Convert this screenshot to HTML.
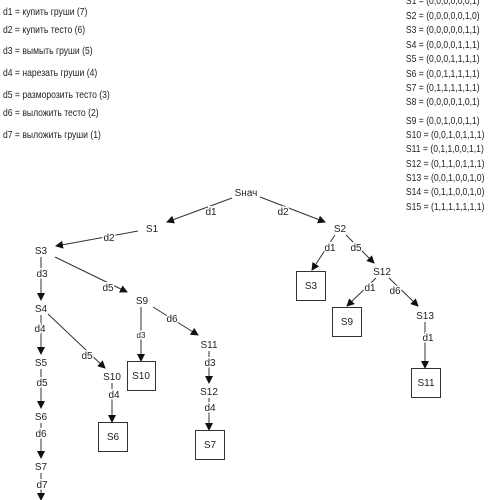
<!DOCTYPE html>
<html><head><meta charset="utf-8"><style>
html,body{margin:0;padding:0;background:#fff;width:500px;height:500px;overflow:hidden}
svg text{font-family:"Liberation Sans",sans-serif;font-size:10px;fill:#222}
.l{paint-order:stroke;stroke:#fff;stroke-width:3px}
</style></head><body>
<svg width="500" height="500" viewBox="0 0 500 500" xmlns="http://www.w3.org/2000/svg">
<defs><marker id="a" markerWidth="8" markerHeight="8" refX="7" refY="4" orient="auto" markerUnits="userSpaceOnUse"><path d="M0,0 L8,4 L0,8 z" fill="#111"/></marker></defs>
<g transform="scale(0.86,1)">
<text x="3.5" y="15">d1 = купить груши (7)</text>
<text x="3.5" y="33">d2 = купить тесто (6)</text>
<text x="3.5" y="54">d3 = вымыть груши (5)</text>
<text x="3.5" y="76">d4 = нарезать груши (4)</text>
<text x="3.5" y="98">d5 = разморозить тесто (3)</text>
<text x="3.5" y="116">d6 = выложить тесто (2)</text>
<text x="3.5" y="138">d7 = выложить груши (1)</text>
</g>
<g transform="scale(0.86,1)">
<text x="472" y="4">S1 = (0,0,0,0,0,0,1)</text>
<text x="472" y="19">S2 = (0,0,0,0,0,1,0)</text>
<text x="472" y="33">S3 = (0,0,0,0,0,1,1)</text>
<text x="472" y="48">S4 = (0,0,0,0,1,1,1)</text>
<text x="472" y="62">S5 = (0,0,0,1,1,1,1)</text>
<text x="472" y="77">S6 = (0,0,1,1,1,1,1)</text>
<text x="472" y="91">S7 = (0,1,1,1,1,1,1)</text>
<text x="472" y="105">S8 = (0,0,0,0,1,0,1)</text>
<text x="472" y="124">S9 = (0,0,1,0,0,1,1)</text>
<text x="472" y="138">S10 = (0,0,1,0,1,1,1)</text>
<text x="472" y="152">S11 = (0,1,1,0,0,1,1)</text>
<text x="472" y="167">S12 = (0,1,1,0,1,1,1)</text>
<text x="472" y="181">S13 = (0,0,1,0,0,1,0)</text>
<text x="472" y="195">S14 = (0,1,1,0,0,1,0)</text>
<text x="472" y="210">S15 = (1,1,1,1,1,1,1)</text>
</g>
<g stroke="#333" stroke-width="1" fill="none" marker-end="url(#a)">
<line x1="232" y1="198" x2="167" y2="222"/>
<line x1="260" y1="197" x2="325" y2="222"/>
<line x1="138" y1="231" x2="56" y2="246"/>
<line x1="41" y1="257" x2="41" y2="300"/>
<line x1="55" y1="257" x2="127" y2="292"/>
<line x1="41" y1="315" x2="41" y2="354"/>
<line x1="48" y1="314" x2="105" y2="368"/>
<line x1="41" y1="369" x2="41" y2="408"/>
<line x1="41" y1="423" x2="41" y2="458"/>
<line x1="41" y1="473" x2="41" y2="500"/>
<line x1="141" y1="307" x2="141" y2="361"/>
<line x1="153" y1="307" x2="198" y2="335"/>
<line x1="112" y1="383" x2="112" y2="422"/>
<line x1="209" y1="351" x2="209" y2="383"/>
<line x1="209" y1="398" x2="209" y2="430"/>
<line x1="335" y1="235" x2="312" y2="270"/>
<line x1="346" y1="235" x2="374" y2="263"/>
<line x1="376" y1="278" x2="347" y2="306"/>
<line x1="389" y1="278" x2="418" y2="306"/>
<line x1="425" y1="322" x2="425" y2="368"/>
</g>
<g fill="#fff" stroke="#333" stroke-width="1">
<rect x="127.5" y="361.5" width="28" height="29"/>
<rect x="98.5" y="422.5" width="29" height="29"/>
<rect x="195.5" y="430.5" width="29" height="29"/>
<rect x="296.5" y="271.5" width="29" height="29"/>
<rect x="332.5" y="307.5" width="29" height="29"/>
<rect x="411.5" y="368.5" width="29" height="29"/>
</g>
<g text-anchor="middle">
<text x="246" y="196">Sнач</text>
<text x="152" y="232">S1</text>
<text x="340" y="232">S2</text>
<text x="41" y="254">S3</text>
<text x="41" y="312">S4</text>
<text x="41" y="366">S5</text>
<text x="41" y="420">S6</text>
<text x="41" y="470">S7</text>
<text x="142" y="304">S9</text>
<text x="112" y="380">S10</text>
<text x="209" y="348">S11</text>
<text x="209" y="395">S12</text>
<text x="382" y="275">S12</text>
<text x="425" y="319">S13</text>
<text x="141" y="379">S10</text>
<text x="113" y="440">S6</text>
<text x="210" y="448">S7</text>
<text x="311" y="289">S3</text>
<text x="347" y="325">S9</text>
<text x="426" y="386">S11</text>
</g>
<g text-anchor="middle" class="l">
<text class="l" x="211" y="215">d1</text>
<text class="l" x="283" y="215">d2</text>
<text class="l" x="109" y="241">d2</text>
<text class="l" x="42" y="277">d3</text>
<text class="l" x="108" y="291">d5</text>
<text class="l" x="40" y="332">d4</text>
<text class="l" x="87" y="359">d5</text>
<text class="l" x="42" y="386">d5</text>
<text class="l" x="41" y="437">d6</text>
<text class="l" x="42" y="488">d7</text>
<text class="l" x="141" y="338" style="font-size:8px">d3</text>
<text class="l" x="172" y="322">d6</text>
<text class="l" x="114" y="398">d4</text>
<text class="l" x="210" y="366">d3</text>
<text class="l" x="210" y="411">d4</text>
<text class="l" x="330" y="251">d1</text>
<text class="l" x="356" y="251">d5</text>
<text class="l" x="370" y="291">d1</text>
<text class="l" x="395" y="294">d6</text>
<text class="l" x="428" y="341">d1</text>
</g>
</svg>
</body></html>
